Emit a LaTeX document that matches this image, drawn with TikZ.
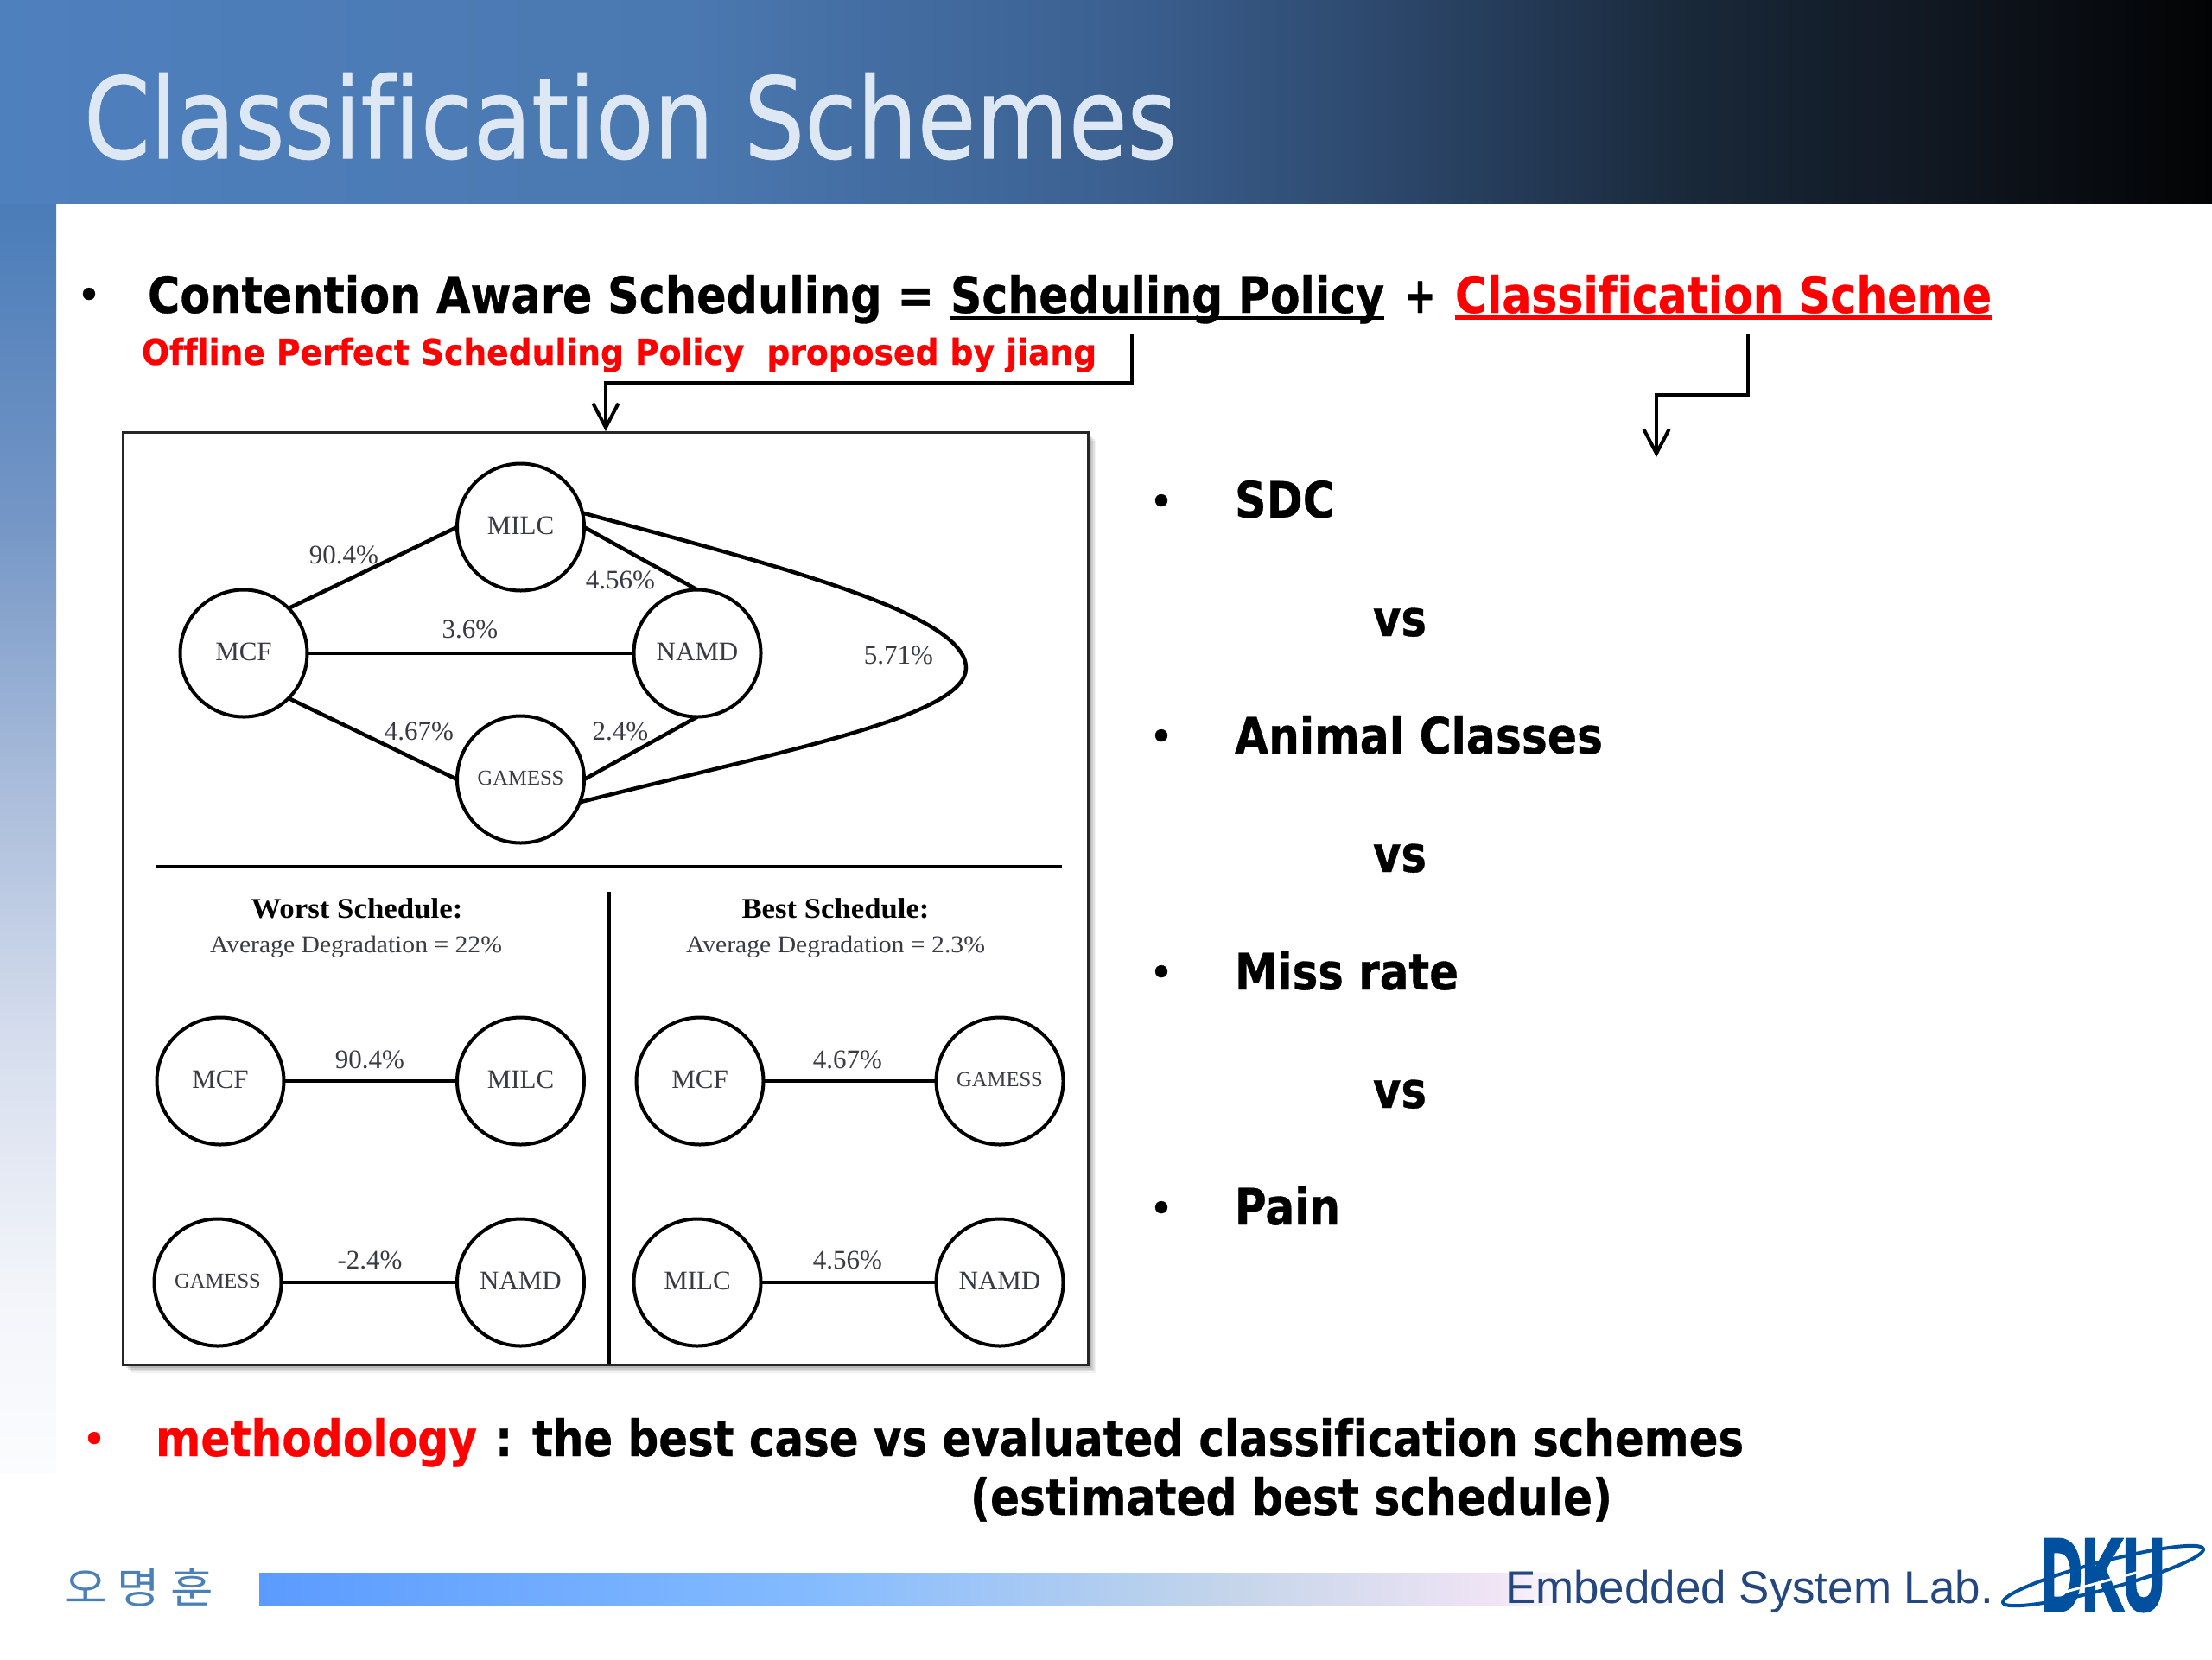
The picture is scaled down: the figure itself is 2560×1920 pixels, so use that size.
\documentclass[tikz,border=0pt]{standalone}
\usepackage{fontspec}
\usepackage{graphicx}
\usetikzlibrary{arrows.meta}
\setmainfont{DejaVu Sans}[Ligatures=NoCommon,BoldFeatures={FakeBold=0.6}]
\newfontfamily\titlex{DejaVu Sans}[Ligatures=NoCommon,FakeBold=0.8]
\newfontfamily\serifx{Liberation Serif}
\newfontfamily\arialx{Liberation Sans}
\newfontfamily\dkux{Liberation Sans}[BoldFeatures={FakeBold=4}]
\newfontfamily\krx{Noto Sans CJK KR}
\newcommand{\fw}[2]{\pgfmathsetlengthmacro\tmpw{#1*0.375}\resizebox{\tmpw}{\height}{#2}}
\newcommand{\fwh}[3]{\pgfmathsetlengthmacro\tmpw{#1*0.375}\pgfmathsetlengthmacro\tmph{#2*0.375}\resizebox{\tmpw}{\tmph}{#3}}
\newcommand{\fsz}[1]{\pgfmathsetmacro\tmpf{#1*0.375}\fontsize{\tmpf pt}{\tmpf pt}\selectfont}
\newcommand{\nl}[1]{\raisebox{1.1pt}{#1}}
\definecolor{labgray}{HTML}{3A3A44}
\definecolor{labblue}{HTML}{24477F}
\definecolor{dkublue}{HTML}{0050A0}
\definecolor{krblue}{HTML}{4A80B8}
\definecolor{titlecol}{HTML}{DDE8F4}
\definecolor{tb0}{HTML}{4F80BE}
\definecolor{tb1}{HTML}{4A78B0}
\definecolor{tb2}{HTML}{3B6090}
\definecolor{tb3}{HTML}{2B4568}
\definecolor{tb4}{HTML}{192839}
\definecolor{tb5}{HTML}{0F151E}
\definecolor{tb6}{HTML}{020304}
\pgfdeclarehorizontalshading{titlebar}{100bp}{color(0bp)=(tb0);color(25bp)=(tb0);color(40.6bp)=(tb1);color(50.4bp)=(tb2);color(56.9bp)=(tb3);color(63.3bp)=(tb4);color(69.6bp)=(tb5);color(75bp)=(tb6);color(100bp)=(tb6)}
\definecolor{sb0}{HTML}{4A7CB8}
\definecolor{sb1}{HTML}{7496C6}
\definecolor{sb2}{HTML}{A8BBDA}
\definecolor{sb3}{HTML}{D5DDED}
\definecolor{sb4}{HTML}{F3F5FA}
\definecolor{sb5}{HTML}{FBFCFE}
\pgfdeclareverticalshading{sidebar}{100bp}{color(0bp)=(sb5);color(25bp)=(sb5);color(32bp)=(sb4);color(42.2bp)=(sb3);color(52.4bp)=(sb2);color(62.6bp)=(sb1);color(75bp)=(sb0);color(100bp)=(sb0)}
\definecolor{fb0}{HTML}{5B9BFF}
\definecolor{fb1}{HTML}{84BBFF}
\definecolor{fb2}{HTML}{C5D5EA}
\definecolor{fb3}{HTML}{F0E4F5}
\pgfdeclarehorizontalshading{footbar}{100bp}{color(0bp)=(fb0);color(25bp)=(fb0);color(46bp)=(fb1);color(62bp)=(fb2);color(72bp)=(fb3);color(75bp)=(white);color(100bp)=(white)}
\tikzset{
  x=0.375pt,y=-0.375pt,
  txt/.style={inner sep=0pt,outer sep=0pt,anchor=base west},
  mid/.style={inner sep=0pt,outer sep=0pt,anchor=center},
  boldtxt/.style={txt,font=\bfseries\fsz{58},text=black},
  redtxt/.style={boldtxt,text=red},
  bulletdot/.style={mid,font=\bfseries\fsz{40}},
  proc/.style={circle,draw=black,line width=4*0.375pt,minimum size=147*0.375pt,inner sep=0pt,outer sep=0pt,text=labgray,font=\serifx\fsz{31}},
  smallproc/.style={proc,font=\serifx\fsz{24.6}},
  pct/.style={mid,text=labgray,font=\serifx\fsz{31}},
  edge/.style={draw=black,line width=4.5*0.375pt},
  ruleln/.style={draw=black,line width=4*0.375pt},
  arrowln/.style={draw=black,line width=4*0.375pt,line join=miter,-{Straight Barb[length=10.5pt,width=11pt]}},
}
\begin{document}
\begin{tikzpicture}
\useasboundingbox (0,0) rectangle (2560,1920);
\fill[white] (0,0) rectangle (2560,1920);
% backgrounds
\fill[shading=sidebar] (0,235) rectangle (65,1705);
\fill[shading=titlebar] (0,0) rectangle (2560,235);
\fill[shading=footbar] (300,1820) rectangle (1822,1857);
% title
\node[txt,text=titlecol,font=\titlex\fsz{130}] (title) at (97,183) {\fw{1265}{Classification Schemes}};
% line 1
\node[bulletdot] (b0) at (103,344) {•};
\node[boldtxt] (l1a) at (171,362) {\fw{910}{Contention Aware Scheduling =}};
\node[boldtxt] (l1b) at (1100,362) {\fw{502}{Scheduling Policy}};
\node[boldtxt] (l1c) at (1625,362) {\fw{37}{+}};
\node[redtxt] (l1d) at (1684,362) {\fw{621}{Classification Scheme}};
\coordinate (u1a) at (1100,368); \coordinate (u1b) at (1602,368);
\coordinate (u2a) at (1684,367); \coordinate (u2b) at (2305,367);
\draw[black,line width=4.5*0.375pt] (u1a) -- (u1b);
\draw[red,line width=5*0.375pt] (u2a) -- (u2b);
\node[redtxt,font=\bfseries\fsz{41}] (off) at (164,422) {\fw{1105}{Offline Perfect Scheduling Policy\ \ proposed by jiang}};
% arrows
\coordinate (a1s) at (1310,387); \coordinate (a1m) at (1310,443); \coordinate (a1n) at (701,443); \coordinate (a1e) at (701,499);
\draw[arrowln] (a1s) -- (a1m) -- (a1n) -- (a1e);
\coordinate (a2s) at (2023,387); \coordinate (a2m) at (2023,457); \coordinate (a2n) at (1917,457); \coordinate (a2e) at (1917,529);
\draw[arrowln] (a2s) -- (a2m) -- (a2n) -- (a2e);
% figure panel
\foreach \d/\o in {10/0.05,8/0.07,6/0.09,4/0.11,2/0.13}
  \fill[black,opacity=\o] (142+\d,500+\d) rectangle (1259+\d,1579+\d);
\draw[draw=black!85,fill=white,line width=3*0.375pt] (142,500) rectangle (1259,1579);
% top graph
\node[proc] (milc) at (602.5,610) {\nl{MILC}};
\node[proc] (mcf) at (282,756) {\nl{MCF}};
\node[proc] (namd) at (807,756) {\nl{NAMD}};
\node[smallproc] (gam) at (602.5,902) {\nl{GAMESS}};
\draw[edge] (mcf.45) -- (milc.180);
\draw[edge] (mcf.-45) -- (gam.180);
\draw[edge] (mcf.0) -- (namd.180);
\draw[edge] (milc.0) -- (namd.90);
\draw[edge] (gam.0) -- (namd.-90);
\coordinate (tip) at (1118,773);
\draw[edge] (milc.13) .. controls (900,655) and (1118,710) .. (tip) .. controls (1118,830) and (900,870) .. (gam.-21);
\node[pct] (p1) at (398,642) {90.4\%};
\node[pct] (p2) at (718,671) {4.56\%};
\node[pct] (p3) at (544,728) {3.6\%};
\node[pct] (p4) at (1040,758) {5.71\%};
\node[pct] (p5) at (485,846) {4.67\%};
\node[pct] (p6) at (718,846) {2.4\%};
% dividers
\coordinate (h1) at (180,1003); \coordinate (h2) at (1229,1003);
\coordinate (v1) at (705,1032); \coordinate (v2) at (705,1579);
\draw[ruleln,line width=4.5*0.375pt] (h1) -- (h2);
\draw[ruleln] (v1) -- (v2);
% headings
\node[mid,font=\serifx\bfseries\fsz{33}] (w1) at (413,1051) {\fw{245}{Worst Schedule:}};
\node[mid,text=labgray,font=\serifx\fsz{28}] (w2) at (412,1096) {\fw{338}{Average Degradation = 22\%}};
\node[mid,font=\serifx\bfseries\fsz{33}] (b1) at (967,1051) {\fw{217}{Best Schedule:}};
\node[mid,text=labgray,font=\serifx\fsz{28}] (b2) at (967,1096) {\fw{346}{Average Degradation = 2.3\%}};
% worst schedule
\node[proc] (wa) at (255,1251) {\nl{MCF}};
\node[proc] (wb) at (602.5,1251) {\nl{MILC}};
\node[smallproc] (wc) at (252,1484) {\nl{GAMESS}};
\node[proc] (wd) at (602.5,1484) {\nl{NAMD}};
\draw[edge] (wa) -- (wb);
\draw[edge] (wc) -- (wd);
\node[pct] (wp1) at (428,1226) {90.4\%};
\node[pct] (wp2) at (428,1458) {-2.4\%};
% best schedule
\node[proc] (ba) at (810,1251) {\nl{MCF}};
\node[smallproc] (bb) at (1157,1251) {\nl{GAMESS}};
\node[proc] (bc) at (807,1484) {\nl{MILC}};
\node[proc] (bd) at (1157,1484) {\nl{NAMD}};
\draw[edge] (ba) -- (bb);
\draw[edge] (bc) -- (bd);
\node[pct] (bp1) at (981,1226) {4.67\%};
\node[pct] (bp2) at (981,1458) {4.56\%};
% right list
\node[bulletdot] (rb1) at (1344,583) {•};
\node[boldtxt] (r1) at (1429,599) {\fw{116}{SDC}};
\node[boldtxt] (v_1) at (1589,736) {\fw{62}{vs}};
\node[bulletdot] (rb2) at (1344,855) {•};
\node[boldtxt] (r2) at (1429,872) {\fw{426}{Animal Classes}};
\node[boldtxt] (v_2) at (1589,1009) {\fw{62}{vs}};
\node[bulletdot] (rb3) at (1344,1128) {•};
\node[boldtxt] (r3) at (1429,1145) {\fw{259}{Miss rate}};
\node[boldtxt] (v_3) at (1589,1282) {\fw{62}{vs}};
\node[bulletdot] (rb4) at (1344,1401) {•};
\node[boldtxt] (r4) at (1429,1417) {\fw{122}{Pain}};
% methodology
\node[bulletdot,text=red] (mb) at (109,1668) {•};
\node[redtxt] (m1) at (180,1685) {\fw{372}{methodology}};
\node[boldtxt] (m2) at (573,1685) {\fw{1445}{: the best case vs evaluated classification schemes}};
\node[boldtxt] (m3) at (1123,1753) {\fw{743}{(estimated best schedule)}};
% footer
\node[txt,text=krblue,font=\krx\fsz{49}] (kr) at (74,1855) {\fw{173}{오 명 훈}};
\node[txt,text=labblue,font=\arialx\fsz{53}] (esl) at (1742,1855) {\fw{565}{Embedded System Lab.}};
% logo
\draw[dkublue,line width=4*0.375pt,rotate around={15:(2434,1823.5)}] (2434,1823.5) ellipse [x radius=120,y radius=16];
\node[inner sep=0pt,outer sep=0pt,anchor=base west,text=dkublue,font=\dkux\bfseries\fsz{80}] (dku) at (2362,1863) {\fwh{143}{81}{DKU}};
\coordinate (sa) at (2387,1843); \coordinate (sb) at (2483,1817);
\draw[white,line width=3*0.375pt] (sa) -- (sb);
\fill[white] (sb) circle [radius=5];
\end{tikzpicture}
\end{document}
